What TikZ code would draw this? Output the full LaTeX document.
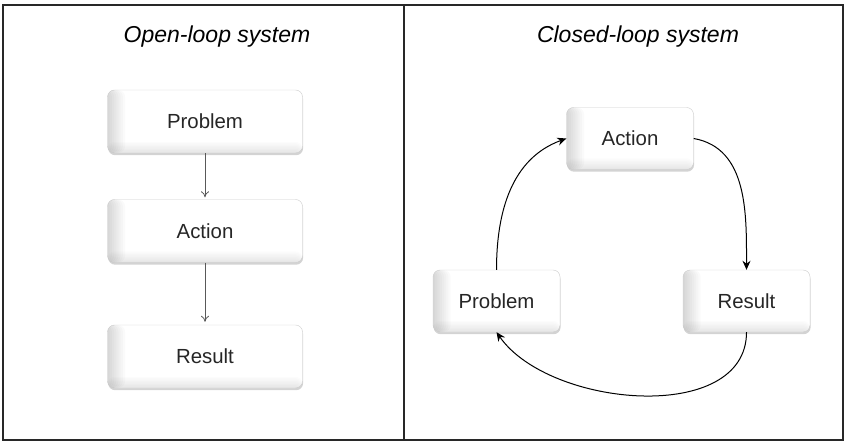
\documentclass[tikz,border=0pt]{standalone}
\usepackage{fontspec}
\setmainfont{Liberation Sans}
\usetikzlibrary{arrows.meta,positioning,shadows}
\definecolor{FrameGray}{RGB}{40,40,40}
\definecolor{EdgeGray}{RGB}{205,205,205}
\tikzset{
  card/.style={draw=EdgeGray,rounded corners=7pt,fill=white,thin,
    drop shadow={shadow xshift=0.6pt,shadow yshift=-2.2pt,opacity=0.35},
    path picture={
      \foreach \i in {1,...,8}{
        \fill[black,opacity=0.018]
          (path picture bounding box.south west) rectangle
          ([xshift=2.2*\i pt]path picture bounding box.north west);
        \fill[black,opacity=0.012]
          (path picture bounding box.south west) rectangle
          ([yshift=1.4*\i pt]path picture bounding box.south east);
      }
    },
    text=black!85,font=\fontsize{20.4}{24}\selectfont,align=center},
  widecard/.style={card,minimum width=195pt,minimum height=63pt},
  smallcard/.style={card,minimum width=127pt,minimum height=62pt},
  heading/.style={font=\fontsize{23}{27}\selectfont\itshape,anchor=base},
  flow/.style={-{To[length=6pt,width=8pt]},gray!70!black,line width=0.8pt},
  feedback/.style={-{Stealth[length=9pt,width=8pt]},black,line width=1pt}
}

\begin{document}
\begin{tikzpicture}[x=1pt,y=1pt]

\useasboundingbox (0,0) rectangle (845,442);

% frame and divider
\draw[FrameGray,line width=2pt] (3,2) rectangle (843,437);
\draw[FrameGray,line width=1.3pt] (404,2) -- (404,437);

% titles
\node[heading] (opentitle) at (217,399) {Open-loop system};
\node[heading] (closedtitle) at (638,399) {Closed-loop system};

% open loop
\node[widecard] (problem) at (205,320.5) {Problem};
\node[widecard] (action) at (205,211) {Action};
\node[widecard] (result) at (205,85.5) {Result};

\draw[flow,shorten >=2pt] (problem) -- (action);
\draw[flow,shorten >=3pt] (action) -- (result);

% closed loop
\node[smallcard] (cloaction) at (630,303.5) {Action};
\node[smallcard] (cloproblem) at (496.5,141) {Problem};
\node[smallcard] (cloresult) at (746.5,141) {Result};

\draw[feedback] (cloproblem.north) to[out=90,in=200] (cloaction.west);
\draw[feedback] (cloaction.east) to[out=-10,in=90] (cloresult.north);
\draw[feedback] (cloresult.south) to[out=-90,in=-55,looseness=0.95] (cloproblem.south);

\end{tikzpicture}
\end{document}
